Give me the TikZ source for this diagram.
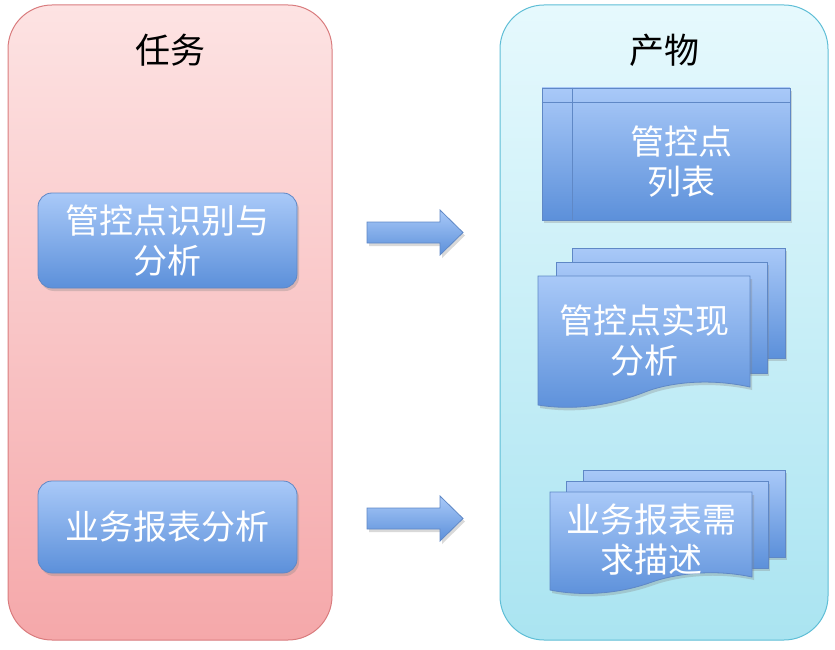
\documentclass[tikz,border=0pt]{standalone}
\usepackage{fontspec}
\newfontfamily\cjk{Noto Sans CJK SC}
\usetikzlibrary{shadows}
\definecolor{pinktop}{HTML}{FDE3E3}
\definecolor{pinkbot}{HTML}{F5A8AA}
\definecolor{pinkline}{HTML}{D97C7E}
\definecolor{cyantop}{HTML}{E6F9FD}
\definecolor{cyanbot}{HTML}{AAE4F1}
\definecolor{cyanline}{HTML}{5FBED6}
\definecolor{bluetop}{HTML}{A9C9F8}
\definecolor{bluebot}{HTML}{5C90DA}
\definecolor{blueline}{HTML}{5F88C6}
\tikzset{
  panel/.style={rectangle, rounded corners=44pt, line width=1pt, inner sep=0pt},
  pinkpanel/.style={top color=pinktop, bottom color=pinkbot, draw=pinkline},
  cyanpanel/.style={top color=cyantop, bottom color=cyanbot, draw=cyanline},
  bluefill/.style={top color=bluetop, bottom color=bluebot, draw=blueline, line width=0.8pt,
    drop shadow={opacity=0.3, shadow xshift=2pt, shadow yshift=-3pt}},
  bluebox/.style={bluefill, rectangle, inner sep=0pt},
  title/.style={font=\cjk\fontsize{35}{40}\selectfont, text=black},
  boxtext/.style={font=\cjk\fontsize{34}{40}\selectfont, text=white, align=center, inner sep=0pt},
  innerline/.style={draw=blueline, line width=0.8pt}
}
\begin{document}
\begin{tikzpicture}[x=1pt,y=-1pt]
\useasboundingbox (0,0) rectangle (835,650);
% panels
\node[panel, pinkpanel, minimum width=324pt, minimum height=635pt] (task) at (170,322.5) {};
\node[panel, cyanpanel, minimum width=328pt, minimum height=635pt] (prod) at (664,322.5) {};
\node[title] (tasktitle) at (170,50) {任务};
\node[title] (prodtitle) at (664,50) {产物};
% left boxes
\node[bluebox, rounded corners=14pt, minimum width=259pt, minimum height=95pt] (ana1) at (167.5,240.5) {};
\node[boxtext] (ana1t) at (ana1) {管控点识别与\\分析};
\node[bluebox, rounded corners=14pt, minimum width=259pt, minimum height=92pt] (ana2) at (167.5,527) {};
\node[boxtext] (ana2t) at (ana2) {业务报表分析};
% arrows
\path[bluefill] (367,222) -- (440,222) -- (440,210) -- (463,232.5) -- (440,255) -- (440,243) -- (367,243) -- cycle;
\path[bluefill] (367,508) -- (440,508) -- (440,496) -- (463,518.5) -- (440,541) -- (440,529) -- (367,529) -- cycle;
% internal storage
\node[bluebox, minimum width=248pt, minimum height=132pt] (list) at (666,154) {};
\draw[innerline] ([xshift=31pt]list.north west) -- ([xshift=31pt]list.south west);
\draw[innerline] ([yshift=-15pt]list.north west) -- ([yshift=-15pt]list.north east);
\node[boxtext] (listt) at (681,162) {管控点\\列表};
% multidocument 1
\path[bluefill] (572,248) rectangle (785,358);
\path[bluefill] (556,262) rectangle (767,373);
\path[bluefill] (538,276) -- (750,276) -- (750,387) .. controls (705,377) and (665,384) .. (645,392) .. controls (612,405) and (575,411) .. (538,405) -- cycle;
\coordinate (doc1c) at (644,341);
\node[boxtext] (doc1t) at (doc1c) {管控点实现\\分析};
% multidocument 2
\path[bluefill] (583,470) rectangle (785,557);
\path[bluefill] (566,481) rectangle (768,568);
\path[bluefill] (550,492) -- (752,492) -- (752,577) .. controls (710,568) and (672,575) .. (652,582) .. controls (622,593) and (585,597) .. (550,590) -- cycle;
\coordinate (doc2c) at (651,540);
\node[boxtext] (doc2t) at (doc2c) {业务报表需\\求描述};
\end{tikzpicture}
\end{document}
